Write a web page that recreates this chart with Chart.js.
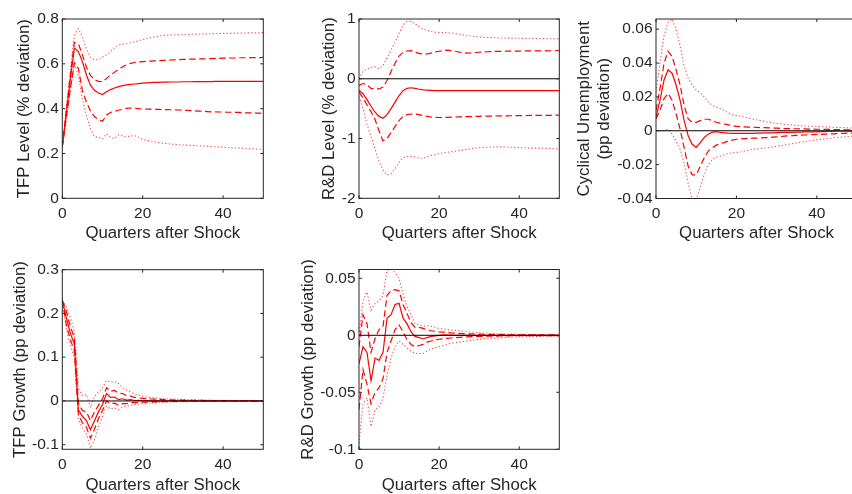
<!DOCTYPE html>
<html><head><meta charset="utf-8">
<script src="https://cdn.jsdelivr.net/npm/chart.js@4.4.1/dist/chart.umd.min.js"></script>
<style>
html,body{margin:0;padding:0;background:#fff;width:852px;height:494px;overflow:hidden;position:relative;}
canvas{position:absolute;}
</style></head><body>
<canvas id="c1"></canvas><canvas id="c2"></canvas><canvas id="c3"></canvas><canvas id="c4"></canvas><canvas id="c5"></canvas>
<script>
// ---------------- DATA ----------------
const quarters = [0,1,2,3,4,5,6,7,8,9,10,11,12,13,14,15,16,17,18,19,20,21,22,23,24,25,26,27,28,29,30,31,32,33,34,35,36,37,38,39,40,41,42,43,44,45,46,47,48,49,50];
const xTicks = [0,20,40];
const xTickLabels = ['0','20','40'];

// Panel 1: TFP Level
const tfpLevelMed = [0.23,0.38,0.53,0.67,0.655,0.61,0.55,0.505,0.482,0.47,0.463,
 0.475,0.485,0.492,0.498,0.503,0.506,0.508,0.51,0.512,0.514,
 0.515,0.516,0.517,0.517,0.518,0.518,0.519,0.519,0.519,0.52,
 0.52,0.52,0.521,0.521,0.521,0.521,0.521,0.522,0.522,0.522,
 0.522,0.522,0.522,0.522,0.522,0.522,0.522,0.522,0.522,0.522];
const tfpLevelHi68 = [0.23,0.39,0.55,0.695,0.69,0.64,0.585,0.548,0.53,0.522,0.52,
 0.535,0.55,0.563,0.576,0.587,0.596,0.602,0.606,0.608,0.61,
 0.611,0.612,0.613,0.614,0.615,0.616,0.617,0.618,0.619,0.62,
 0.62,0.621,0.621,0.622,0.622,0.623,0.623,0.624,0.624,0.625,
 0.625,0.626,0.626,0.627,0.627,0.627,0.628,0.628,0.628,0.629];
const tfpLevelLo68 = [0.23,0.36,0.49,0.605,0.58,0.48,0.43,0.39,0.365,0.35,0.344,
 0.372,0.383,0.388,0.393,0.397,0.401,0.403,0.402,0.4,0.399,
 0.398,0.398,0.397,0.397,0.396,0.396,0.395,0.395,0.394,0.393,
 0.392,0.391,0.39,0.389,0.388,0.387,0.386,0.386,0.385,0.385,
 0.384,0.384,0.383,0.383,0.382,0.381,0.381,0.38,0.38,0.379];
const tfpLevelHi90 = [0.23,0.4,0.57,0.73,0.757,0.72,0.665,0.63,0.617,0.62,0.63,
 0.64,0.655,0.672,0.684,0.688,0.691,0.694,0.698,0.703,0.708,
 0.713,0.717,0.72,0.723,0.726,0.728,0.729,0.73,0.73,0.731,
 0.731,0.732,0.732,0.733,0.733,0.734,0.734,0.735,0.735,0.736,
 0.736,0.736,0.737,0.737,0.737,0.738,0.738,0.738,0.739,0.739];
const tfpLevelLo90 = [0.23,0.35,0.48,0.6,0.55,0.44,0.37,0.31,0.275,0.272,0.265,
 0.288,0.272,0.266,0.283,0.278,0.274,0.278,0.28,0.272,0.262,
 0.258,0.255,0.252,0.249,0.246,0.244,0.242,0.24,0.239,0.238,
 0.237,0.236,0.235,0.234,0.233,0.232,0.231,0.23,0.229,0.228,
 0.227,0.226,0.225,0.224,0.223,0.222,0.221,0.22,0.219,0.219];
const tfpLevelTicks = [0,0.2,0.4,0.6,0.8];
const tfpLevelTickLabels = ['0','0.2','0.4','0.6','0.8'];

// Panel 2: R&D Level
const rdLevelMed = [-0.19,-0.25,-0.35,-0.46,-0.56,-0.63,-0.66,-0.6,-0.5,-0.39,-0.28,
 -0.2,-0.16,-0.15,-0.16,-0.175,-0.185,-0.19,-0.195,-0.2,-0.2,
 -0.2,-0.2,-0.2,-0.2,-0.2,-0.2,-0.2,-0.2,-0.2,-0.2,
 -0.2,-0.2,-0.2,-0.2,-0.2,-0.2,-0.2,-0.2,-0.2,-0.2,
 -0.2,-0.2,-0.2,-0.2,-0.2,-0.2,-0.2,-0.2,-0.2,-0.2];
const rdLevelHi68 = [-0.11,-0.08,-0.1,-0.16,-0.17,-0.17,-0.14,-0.03,0.12,0.26,0.38,
 0.44,0.465,0.47,0.445,0.425,0.415,0.415,0.43,0.45,0.46,
 0.47,0.48,0.47,0.46,0.445,0.435,0.43,0.432,0.438,0.444,
 0.448,0.452,0.455,0.457,0.459,0.46,0.461,0.462,0.463,0.464,
 0.465,0.466,0.466,0.467,0.467,0.468,0.468,0.469,0.469,0.47];
const rdLevelLo68 = [-0.22,-0.32,-0.44,-0.55,-0.68,-0.87,-1.04,-1.0,-0.9,-0.8,-0.7,
 -0.63,-0.6,-0.59,-0.59,-0.6,-0.615,-0.63,-0.64,-0.645,-0.648,
 -0.648,-0.645,-0.642,-0.64,-0.638,-0.636,-0.634,-0.632,-0.63,-0.628,
 -0.626,-0.625,-0.624,-0.623,-0.622,-0.621,-0.62,-0.619,-0.618,-0.617,
 -0.616,-0.615,-0.614,-0.613,-0.612,-0.612,-0.611,-0.611,-0.61,-0.61];
const rdLevelHi90 = [0.0,0.13,0.16,0.19,0.2,0.17,0.22,0.35,0.48,0.61,0.76,
 0.9,0.96,0.96,0.92,0.87,0.83,0.81,0.79,0.78,0.775,
 0.775,0.77,0.765,0.755,0.745,0.735,0.725,0.715,0.705,0.7,
 0.695,0.69,0.688,0.686,0.684,0.682,0.68,0.679,0.678,0.677,
 0.676,0.675,0.674,0.673,0.672,0.671,0.67,0.67,0.669,0.668];
const rdLevelLo90 = [-0.3,-0.5,-0.76,-0.97,-1.17,-1.38,-1.53,-1.61,-1.59,-1.5,-1.4,
 -1.32,-1.3,-1.3,-1.31,-1.33,-1.33,-1.31,-1.28,-1.27,-1.25,
 -1.24,-1.23,-1.22,-1.21,-1.2,-1.19,-1.18,-1.17,-1.16,-1.155,
 -1.15,-1.145,-1.14,-1.14,-1.14,-1.14,-1.145,-1.145,-1.15,-1.15,
 -1.155,-1.155,-1.16,-1.16,-1.16,-1.165,-1.165,-1.165,-1.17,-1.17];
const rdLevelTicks = [-2,-1,0,1];
const rdLevelTickLabels = ['-2','-1','0','1'];

// Panel 3: Cyclical Unemployment
const unempMed = [0.008,0.018,0.03,0.036,0.034,0.027,0.018,0.006,-0.003,-0.008,-0.0098,
 -0.007,-0.004,-0.002,-0.0008,-0.0006,-0.001,-0.0012,-0.0014,-0.0015,-0.0016,
 -0.0016,-0.0016,-0.0015,-0.0015,-0.0014,-0.0014,-0.0013,-0.0012,-0.0012,-0.0011,
 -0.001,-0.001,-0.0009,-0.0009,-0.0008,-0.0008,-0.0007,-0.0007,-0.0006,-0.0006,
 -0.0005,-0.0005,-0.0004,-0.0004,-0.0003,-0.0003,-0.0003,-0.0002,-0.0002,-0.0002];
const unempHi68 = [0.012,0.025,0.04,0.047,0.044,0.036,0.027,0.015,0.007,0.005,0.005,
 0.006,0.0068,0.0068,0.006,0.005,0.0045,0.004,0.0035,0.003,0.0026,
 0.0024,0.0023,0.0022,0.0021,0.002,0.0019,0.0018,0.0017,0.0016,0.0015,
 0.0014,0.0013,0.0013,0.0012,0.0012,0.0011,0.0011,0.001,0.001,0.0009,
 0.0009,0.0008,0.0008,0.0007,0.0007,0.0006,0.0006,0.0006,0.0005,0.0005];
const unempLo68 = [0.007,0.012,0.019,0.022,0.018,0.01,0.001,-0.01,-0.021,-0.026,-0.026,
 -0.021,-0.016,-0.012,-0.01,-0.0085,-0.0075,-0.007,-0.006,-0.0055,-0.005,
 -0.0048,-0.0046,-0.0045,-0.0044,-0.0043,-0.0042,-0.0041,-0.004,-0.0038,-0.0036,
 -0.0034,-0.0032,-0.003,-0.0029,-0.0027,-0.0026,-0.0025,-0.0024,-0.0023,-0.0022,
 -0.0021,-0.002,-0.0019,-0.0018,-0.0017,-0.0016,-0.0015,-0.0014,-0.0013,-0.0012];
const unempHi90 = [0.023,0.04,0.056,0.064,0.066,0.06,0.05,0.038,0.031,0.027,0.024,
 0.0225,0.02,0.017,0.015,0.014,0.013,0.012,0.0105,0.0095,0.009,
 0.0085,0.008,0.0075,0.007,0.0065,0.006,0.0055,0.005,0.0047,0.0044,
 0.0041,0.0038,0.0036,0.0034,0.0032,0.003,0.0028,0.0027,0.0026,0.0025,
 0.0024,0.0023,0.0022,0.0021,0.002,0.0019,0.0018,0.0017,0.0016,0.0015];
const unempLo90 = [0.0,0.0,0.0,0.001,-0.002,-0.006,-0.011,-0.019,-0.031,-0.04,-0.041,
 -0.033,-0.026,-0.02,-0.017,-0.0155,-0.015,-0.014,-0.0135,-0.013,-0.0128,
 -0.0125,-0.012,-0.0115,-0.011,-0.0108,-0.0105,-0.0102,-0.01,-0.0096,-0.0092,
 -0.0088,-0.0084,-0.008,-0.0076,-0.0072,-0.0068,-0.0064,-0.006,-0.0057,-0.0054,
 -0.0051,-0.0048,-0.0045,-0.0042,-0.004,-0.0038,-0.0036,-0.0034,-0.0032,-0.003];
const unempTicks = [-0.04,-0.02,0,0.02,0.04,0.06];
const unempTickLabels = ['-0.04','-0.02','0','0.02','0.04','0.06'];

// Panel 4: TFP Growth
const tfpGrowthMed = [0.23,0.19,0.155,0.13,-0.02,-0.035,-0.045,-0.066,-0.045,-0.025,-0.008,
 0.017,0.008,0.009,0.003,0.005,0.002,0.003,0.001,0.0015,0.0005,
 0.001,0.0003,0.0005,0.0002,0.0003,0.0001,0.0002,0.0001,0.0001,0,
 0,0,0,0,0,0,0,0,0,0,
 0,0,0,0,0,0,0,0,0,0];
const tfpGrowthHi68 = [0.23,0.205,0.17,0.145,-0.005,-0.022,-0.025,-0.045,-0.025,-0.01,0.005,
 0.03,0.022,0.024,0.018,0.017,0.012,0.011,0.008,0.007,0.006,
 0.005,0.0045,0.004,0.0035,0.003,0.0027,0.0024,0.0021,0.0019,0.0017,
 0.0015,0.0014,0.0013,0.0012,0.0011,0.001,0.0009,0.0008,0.0008,0.0007,
 0.0007,0.0006,0.0006,0.0005,0.0005,0.0005,0.0004,0.0004,0.0004,0.0003];
const tfpGrowthLo68 = [0.23,0.175,0.14,0.115,-0.03,-0.05,-0.06,-0.085,-0.065,-0.04,-0.022,
 0.0,-0.006,-0.005,-0.01,-0.006,-0.006,-0.004,-0.004,-0.003,-0.003,
 -0.0025,-0.002,-0.002,-0.0017,-0.0015,-0.0013,-0.0012,-0.001,-0.0009,-0.0008,
 -0.0007,-0.0007,-0.0006,-0.0006,-0.0005,-0.0005,-0.0004,-0.0004,-0.0004,-0.0003,
 -0.0003,-0.0003,-0.0003,-0.0003,-0.0003,-0.0003,-0.0003,-0.0003,-0.0003,-0.0003];
const tfpGrowthHi90 = [0.23,0.215,0.19,0.16,0.03,0.012,0.015,-0.015,0.01,0.02,0.03,
 0.047,0.043,0.044,0.04,0.03,0.025,0.02,0.016,0.013,0.011,
 0.009,0.008,0.007,0.006,0.0055,0.005,0.0045,0.004,0.0036,0.0033,
 0.003,0.0027,0.0025,0.0023,0.0021,0.0019,0.0018,0.0016,0.0015,0.0014,
 0.0013,0.0012,0.0011,0.001,0.001,0.0009,0.0009,0.0008,0.0008,0.0007];
const tfpGrowthLo90 = [0.23,0.165,0.125,0.1,-0.04,-0.063,-0.075,-0.108,-0.09,-0.06,-0.035,
 -0.012,-0.018,-0.016,-0.02,-0.014,-0.012,-0.01,-0.008,-0.007,-0.006,
 -0.005,-0.0045,-0.004,-0.0035,-0.003,-0.0027,-0.0024,-0.0021,-0.0019,-0.0017,
 -0.0015,-0.0014,-0.0013,-0.0012,-0.0011,-0.001,-0.0009,-0.0008,-0.0008,-0.0007,
 -0.0007,-0.0006,-0.0006,-0.0005,-0.0005,-0.0005,-0.0004,-0.0004,-0.0004,-0.0003];
const tfpGrowthTicks = [-0.1,0,0.1,0.2,0.3];
const tfpGrowthTickLabels = ['-0.1','0','0.1','0.2','0.3'];

// Panel 5: R&D Growth
const rdGrowthMed = [-0.025,-0.01,-0.015,-0.04,-0.02,-0.022,-0.015,0.015,0.018,0.027,0.028,
 0.015,0.01,0.003,-0.001,-0.002,-0.003,-0.002,-0.001,-0.0005,0,
 0.0003,0.0002,0.0001,0,0,0,0,0,0,0,
 0,0,0,0,0,0,0,0,0,0,
 0,0,0,0,0,0,0,0,0,0];
const rdGrowthHi68 = [-0.01,0.018,0.01,-0.015,-0.003,0.005,0.008,0.035,0.039,0.04,0.039,
 0.027,0.019,0.011,0.007,0.007,0.006,0.005,0.004,0.0035,0.003,
 0.0027,0.0024,0.0021,0.0019,0.0017,0.0015,0.0013,0.0012,0.0011,0.001,
 0.0009,0.0008,0.0007,0.0007,0.0006,0.0005,0.0005,0.0004,0.0004,0.0004,
 0.0003,0.0003,0.0003,0.0003,0.0003,0.0003,0.0003,0.0003,0.0003,0.0003];
const rdGrowthLo68 = [-0.065,-0.03,-0.043,-0.06,-0.05,-0.046,-0.038,-0.015,-0.005,0.005,0.009,
 0.003,-0.004,-0.008,-0.01,-0.009,-0.008,-0.006,-0.005,-0.004,-0.0035,
 -0.003,-0.0027,-0.0024,-0.0021,-0.0018,-0.0016,-0.0014,-0.0012,-0.0011,-0.001,
 -0.0009,-0.0008,-0.0007,-0.0007,-0.0006,-0.0005,-0.0005,-0.0004,-0.0004,-0.0004,
 -0.0003,-0.0003,-0.0003,-0.0003,-0.0003,-0.0003,-0.0003,-0.0003,-0.0003,-0.0003];
const rdGrowthHi90 = [0.0,0.03,0.038,0.022,0.028,0.03,0.035,0.057,0.058,0.055,0.05,
 0.036,0.025,0.018,0.01,0.009,0.008,0.0085,0.008,0.007,0.006,
 0.0055,0.005,0.0047,0.0044,0.004,0.0036,0.0032,0.0028,0.0025,0.0022,
 0.002,0.0018,0.0016,0.0014,0.0013,0.0012,0.0011,0.001,0.0009,0.0008,
 0.0008,0.0007,0.0007,0.0006,0.0006,0.0005,0.0005,0.0005,0.0004,0.0004];
const rdGrowthLo90 = [-0.095,-0.06,-0.055,-0.08,-0.065,-0.063,-0.055,-0.035,-0.02,-0.01,-0.005,
 -0.008,-0.011,-0.014,-0.016,-0.016,-0.016,-0.014,-0.012,-0.011,-0.01,
 -0.009,-0.008,-0.007,-0.0065,-0.006,-0.0055,-0.005,-0.0045,-0.004,-0.0035,
 -0.003,-0.0028,-0.0026,-0.0024,-0.0022,-0.002,-0.0018,-0.0016,-0.0015,-0.0014,
 -0.0013,-0.0012,-0.0011,-0.001,-0.001,-0.0009,-0.0009,-0.0008,-0.0008,-0.0007];
const rdGrowthTicks = [-0.1,-0.05,0,0.05];
const rdGrowthTickLabels = ['-0.1','-0.05','0','0.05'];

// ---------------- STYLE / LAYOUT ----------------
const FONT = '"Liberation Sans", Arial, Helvetica, sans-serif';
const TXT = '#262626';
const TICK_SIZE = 15.5, TITLE_SIZE = 16.8;
const TICK_LH = TICK_SIZE * 1.2, TITLE_LH = TITLE_SIZE * 1.2;
const RED = '#ff0000';

const panels = [
  {id:'c1', yTitle:'TFP Level (% deviation)', yMin:0, yMax:0.8, ticks:tfpLevelTicks, tickLabels:tfpLevelTickLabels,
   med:tfpLevelMed, hi68:tfpLevelHi68, lo68:tfpLevelLo68, hi90:tfpLevelHi90, lo90:tfpLevelLo90, zero:false,
   box:{L:62.3,T:19,R:263.3,B:198.3,yt:24.8,xt:233.5}},
  {id:'c2', yTitle:'R&D Level (% deviation)', yMin:-2, yMax:1, ticks:rdLevelTicks, tickLabels:rdLevelTickLabels,
   med:rdLevelMed, hi68:rdLevelHi68, lo68:rdLevelLo68, hi90:rdLevelHi90, lo90:rdLevelLo90, zero:true,
   box:{L:359,T:19,R:559.3,B:198.3,yt:329.8,xt:233.8}},
  {id:'c3', yTitle:['Cyclical Unemployment','(pp deviation)'], yMin:-0.04, yMax:0.066, ticks:unempTicks, tickLabels:unempTickLabels,
   med:unempMed, hi68:unempHi68, lo68:unempLo68, hi90:unempHi90, lo90:unempLo90, zero:true,
   box:{L:656,T:19,R:857,B:198.5,yt:584.3,xt:233.8}},
  {id:'c4', yTitle:'TFP Growth (pp deviation)', yMin:-0.1105, yMax:0.3, ticks:tfpGrowthTicks, tickLabels:tfpGrowthTickLabels,
   med:tfpGrowthMed, hi68:tfpGrowthHi68, lo68:tfpGrowthLo68, hi90:tfpGrowthHi90, lo90:tfpGrowthLo90, zero:true,
   box:{L:62.3,T:269.7,R:263.3,B:449.3,yt:20,xt:485}},
  {id:'c5', yTitle:'R&D Growth (pp deviation)', yMin:-0.1, yMax:0.0577, ticks:rdGrowthTicks, tickLabels:rdGrowthTickLabels,
   med:rdGrowthMed, hi68:rdGrowthHi68, lo68:rdGrowthLo68, hi90:rdGrowthHi90, lo90:rdGrowthLo90, zero:true,
   box:{L:359,T:269.5,R:559.3,B:449.3,yt:308.6,xt:485}}
];

const boxPlugin = {
  id: 'matlabBox',
  afterDraw(chart) {
    const {ctx, chartArea: a} = chart;
    const x = chart.scales.x, y = chart.scales.y;
    ctx.save();
    ctx.strokeStyle = TXT; ctx.lineWidth = 1;
    ctx.strokeRect(a.left, a.top, a.right - a.left, a.bottom - a.top);
    ctx.beginPath();
    const TL = 3;
    x.ticks.forEach(t => {
      const px = x.getPixelForValue(t.value);
      ctx.moveTo(px, a.bottom); ctx.lineTo(px, a.bottom - TL);
      ctx.moveTo(px, a.top); ctx.lineTo(px, a.top + TL);
    });
    y.ticks.forEach(t => {
      const py = y.getPixelForValue(t.value);
      ctx.moveTo(a.left, py); ctx.lineTo(a.left + TL, py);
      ctx.moveTo(a.right, py); ctx.lineTo(a.right - TL, py);
    });
    ctx.stroke();
    ctx.restore();
  }
};

function line(data, kind) {
  const ds = {data, pointRadius:0, borderWidth:1.2, borderColor:RED, fill:false, tension:0};
  if (kind === 'dash') { ds.borderDash = [6.5, 3.5]; }
  if (kind === 'dot') { ds.borderDash = [1.3, 2.2]; ds.borderWidth = 1.1; ds.borderColor = 'rgba(255,0,0,0.7)'; }
  return ds;
}

panels.forEach(p => {
  const b = p.box;
  const left = Math.floor(b.yt - 12), top = Math.floor(b.T - 15);
  const right = Math.ceil(b.R + 12), bottom = Math.ceil(b.xt + 14);
  const W = right - left, H = bottom - top;
  const cv = document.getElementById(p.id);
  cv.width = W; cv.height = H;
  cv.style.left = left + 'px'; cv.style.top = top + 'px';
  cv.style.width = W + 'px'; cv.style.height = H + 'px';

  const datasets = [];
  if (p.zero) {
    datasets.push({data:[{x:quarters[0], y:0}, {x:quarters[quarters.length-1], y:0}],
      borderColor:'#000000', borderWidth:1, pointRadius:0, fill:false});
  }
  datasets.push(line(p.med, 'solid'));
  datasets.push(line(p.hi68, 'dash'));
  datasets.push(line(p.lo68, 'dash'));
  datasets.push(line(p.hi90, 'dot'));
  datasets.push(line(p.lo90, 'dot'));

  new Chart(cv, {
    type: 'line',
    data: {labels: quarters, datasets},
    plugins: [boxPlugin],
    options: {
      responsive: false, animation: false, devicePixelRatio: 1,
      layout: {padding: {top: b.T - top, right: right - b.R, left: 0, bottom: 0}},
      plugins: {legend: {display: false}, tooltip: {enabled: false}, title: {display: false}},
      scales: {
        x: {
          type: 'linear', min: 0, max: 50,
          grid: {display: false, drawTicks: false}, border: {display: false},
          afterBuildTicks: s => { s.ticks = xTicks.map(v => ({value: v})); },
          afterFit: s => { s.height = bottom - b.B; },
          ticks: {autoSkip: false, maxRotation: 0, minRotation: 0, padding: 15 - TICK_LH / 2, color: TXT,
            font: {family: FONT, size: TICK_SIZE}, callback: (v, i) => xTickLabels[i]},
          title: {display: true, text: 'Quarters after Shock', color: TXT,
            font: {family: FONT, size: TITLE_SIZE}, padding: {top: 0, bottom: bottom - b.xt - TITLE_LH / 2}}
        },
        y: {
          type: 'linear', min: p.yMin, max: p.yMax,
          grid: {display: false, drawTicks: false}, border: {display: false},
          afterBuildTicks: s => { s.ticks = p.ticks.map(v => ({value: v})); },
          afterFit: s => { s.width = b.L - left; },
          ticks: {autoSkip: false, padding: 3.5, color: TXT,
            font: {family: FONT, size: TICK_SIZE}, callback: (v, i) => p.tickLabels[i]},
          title: {display: true, text: p.yTitle, color: TXT,
            font: {family: FONT, size: TITLE_SIZE}, padding: {top: b.yt - left - TITLE_LH / 2, bottom: 0}}
        }
      }
    }
  });
});
</script>
</body></html>
